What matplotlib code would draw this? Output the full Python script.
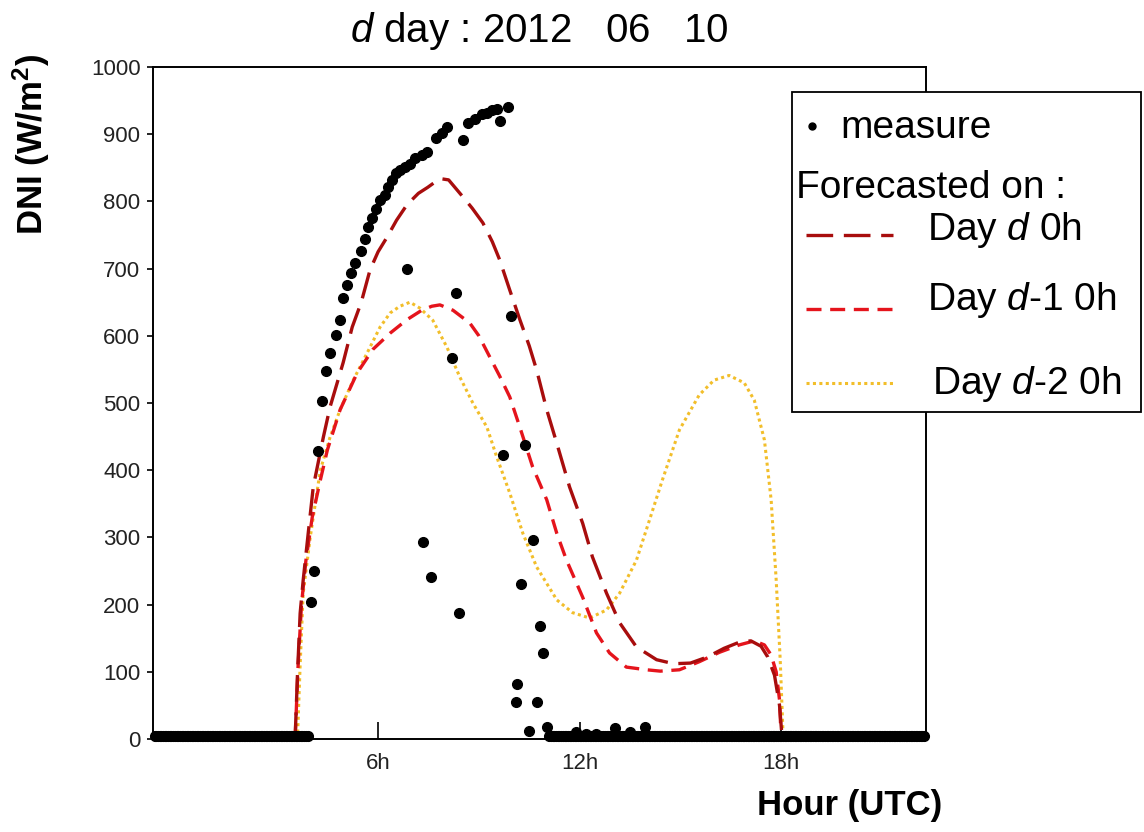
import numpy as np
import matplotlib
matplotlib.use("Agg")
import matplotlib.pyplot as plt
from matplotlib.lines import Line2D
from matplotlib.patches import Rectangle

plt.rcParams['font.family'] = ['Liberation Sans', 'DejaVu Sans']
plt.rcParams['mathtext.fontset'] = 'custom'
plt.rcParams['mathtext.rm'] = 'Liberation Sans'
plt.rcParams['mathtext.it'] = 'Liberation Sans:italic'
plt.rcParams['mathtext.bf'] = 'Liberation Sans:bold'

# measured DNI, daytime part (hour UTC, W/m2)
meas_hour = [4.01, 4.10, 4.22, 4.34, 4.45, 4.57, 4.75, 4.87, 4.96, 5.08, 5.20, 5.32,
             5.49, 5.61, 5.70, 5.82, 5.94, 6.06, 6.21, 6.30, 6.42, 6.53, 6.65, 6.80,
             6.95, 7.10, 7.31, 7.45, 7.72, 7.90, 8.05, 8.52, 8.67, 8.88, 9.09, 9.24,
             9.39, 9.53, 9.62, 9.86,
             6.86, 7.34, 7.57, 8.20, 8.32, 8.41, 9.71, 9.95, 10.10, 10.13, 10.25,
             10.37, 10.48, 10.60, 10.72, 10.81, 10.90, 11.02,
             11.9, 12.2, 12.5, 13.05, 13.5, 13.95]
meas_dni = [204, 250, 429, 503, 548, 574, 601, 623, 656, 676, 693, 708,
            726, 744, 762, 775, 789, 802, 810, 821, 832, 842, 847, 851,
            856, 865, 869, 874, 894, 902, 910, 891, 917, 923, 930, 932,
            936, 938, 920, 940,
            700, 293, 241, 567, 663, 187, 423, 630, 55, 82, 231,
            437, 12, 296, 55, 168, 128, 18,
            10, 8, 8, 16, 10, 18]

# night time measures (dense sampling), read as ~5 W/m2
night_am = np.arange(-0.65, 3.95, 0.05)
night_pm = np.arange(11.10, 22.3, 0.05)
night_level = 5

# forecasts
fc_d_hour = [3.53, 3.60, 3.68, 3.77, 3.92, 4.07, 4.37, 4.57, 4.96, 5.23, 5.50, 5.76,
             6.00, 6.27, 6.55, 6.86, 7.20, 7.48, 7.84, 8.10, 8.52, 8.80, 9.12, 9.40,
             9.62, 9.92, 10.22, 10.50, 10.72, 11.02, 11.32, 11.70, 12.09, 12.38, 12.80,
             13.19, 13.69, 14.29, 14.80, 15.30, 15.80, 16.30, 16.80, 17.10, 17.40,
             17.60, 17.80, 17.95, 18.03]
fc_d = [0, 95, 187, 236, 306, 375, 449, 494, 560, 613, 650, 698,
        725, 747, 772, 795, 812, 821, 834, 832, 807, 790, 768, 740,
        713, 668, 624, 585, 549, 490, 440, 375, 321, 271, 217,
        173, 137, 118, 112, 113, 122, 135, 145, 146, 138,
        122, 95, 50, 0]

fc_d1_hour = [3.53, 3.62, 3.72, 3.85, 4.04, 4.28, 4.49, 4.87, 5.38, 5.85, 6.36, 6.86,
              7.30, 7.60, 7.84, 8.23, 8.73, 9.00, 9.33, 9.62, 9.92, 10.22, 10.60,
              11.02, 11.32, 11.61, 12.09, 12.50, 12.89, 13.39, 13.99, 14.40, 14.97,
              15.56, 16.16, 16.75, 17.20, 17.50, 17.70, 17.85, 17.95, 18.00]
fc_d1 = [0, 110, 200, 265, 330, 385, 430, 490, 545, 580, 604, 624,
         638, 644, 646, 638, 619, 600, 568, 540, 509, 464, 405,
         356, 306, 266, 211, 158, 128, 107, 103, 101, 103,
         115, 129, 140, 146, 140, 125, 100, 58, 0]

fc_d2_hour = [3.60, 3.68, 3.77, 3.98, 4.28, 4.57, 4.87, 5.26, 5.67, 6.06, 6.36, 6.65,
              6.95, 7.25, 7.63, 8.05, 8.43, 8.82, 9.24, 9.53, 9.92, 10.31, 10.72,
              11.32, 11.79, 12.30, 12.80, 13.19, 13.69, 14.08, 14.46, 14.97, 15.56,
              16.00, 16.45, 16.90, 17.20, 17.50, 17.70, 17.85, 17.97, 18.06]
fc_d2 = [0, 110, 217, 300, 400, 449, 490, 534, 574, 613, 634, 644,
         650, 641, 623, 583, 539, 500, 464, 420, 366, 306, 256,
         207, 188, 180, 192, 217, 266, 326, 385, 460, 512,
         534, 541, 530, 504, 445, 356, 237, 118, 0]

x_ticks = [6, 12, 18]
x_ticklabels = ['6h', '12h', '18h']
y_ticks = list(range(0, 1001, 100))

style_d = dict(color='#A80D0D', lw=2.4, linestyle=(0, (8, 3.2)))
style_d1 = dict(color='#E5141C', lw=2.4, linestyle=(0, (4.5, 2.6)))
style_d2 = dict(color='#F2BE2A', lw=2.2, linestyle=(0, (1, 1.1)))

W, H = 1144, 832
fig = plt.figure(figsize=(W / 100, H / 100), dpi=100)
ax = fig.add_axes([153 / W, 1 - 739 / H, (926 - 153) / W, (739 - 67) / H])

ax.plot(fc_d2_hour, fc_d2, **style_d2)
ax.plot(fc_d1_hour, fc_d1, **style_d1)
ax.plot(fc_d_hour, fc_d, **style_d)

ms = 7
ax.plot(night_am, np.full(len(night_am), night_level), 'o', color='black', ms=ms, clip_on=False)
ax.plot(night_pm, np.full(len(night_pm), night_level), 'o', color='black', ms=ms, clip_on=False)
ax.plot(meas_hour, meas_dni, 'o', color='black', ms=ms, clip_on=False)

ax.set_xlim(-0.70, 22.31)
ax.set_ylim(0, 1000)
ax.set_xticks(x_ticks)
ax.set_xticklabels(x_ticklabels)
ax.set_yticks(y_ticks)
ax.tick_params(axis='x', direction='in', length=12, width=1.2, pad=10,
               labelsize=16, labelcolor='#222222')
ax.tick_params(axis='y', direction='out', length=4, width=1.2, pad=5,
               labelsize=16, labelcolor='#222222')
for sp in ax.spines.values():
    sp.set_linewidth(1.4)

ax.set_title(r'$\mathit{d}$ day : 2012   06   10', fontsize=29, pad=18)

fig.text(31 / W, 1 - 144 / H, r'DNI (W/m$^{\mathbf{2}}$)', rotation=90,
         ha='center', va='center', fontsize=25, fontweight='bold')
fig.text(850 / W, 1 - 806 / H, 'Hour (UTC)', ha='center', va='center',
         fontsize=25, fontweight='bold')

# legend box drawn by hand so the spacing matches
box = Rectangle((792 / W, 1 - 412 / H), (1141 - 792) / W, (412 - 92) / H,
                transform=fig.transFigure, facecolor='white', edgecolor='black',
                lw=1.3, zorder=5)
fig.add_artist(box)


def fy(py):
    return 1 - py / H


fig.add_artist(Line2D([812 / W], [fy(126)], marker='o', color='black', ms=5,
                      transform=fig.transFigure, zorder=6))
fig.text(840 / W, fy(138), 'measure', fontsize=28, va='baseline', zorder=6)
fig.text(796 / W, fy(198), 'Forecasted on :', fontsize=28, va='baseline', zorder=6)

handles = [(235, 240, style_d, r'Day $\mathit{d}$ 0h', 927),
           (309, 310, style_d1, r'Day $\mathit{d}$-1 0h', 927),
           (383, 394, style_d2, r'Day $\mathit{d}$-2 0h', 932)]
for ly, ty, st, lab, tx in handles:
    fig.add_artist(Line2D([806 / W, 893 / W], [fy(ly), fy(ly)],
                          transform=fig.transFigure, zorder=6, **st))
    fig.text(tx / W, fy(ty), lab, fontsize=28, va='baseline', zorder=6)

fig.savefig('out.png', dpi=100)
